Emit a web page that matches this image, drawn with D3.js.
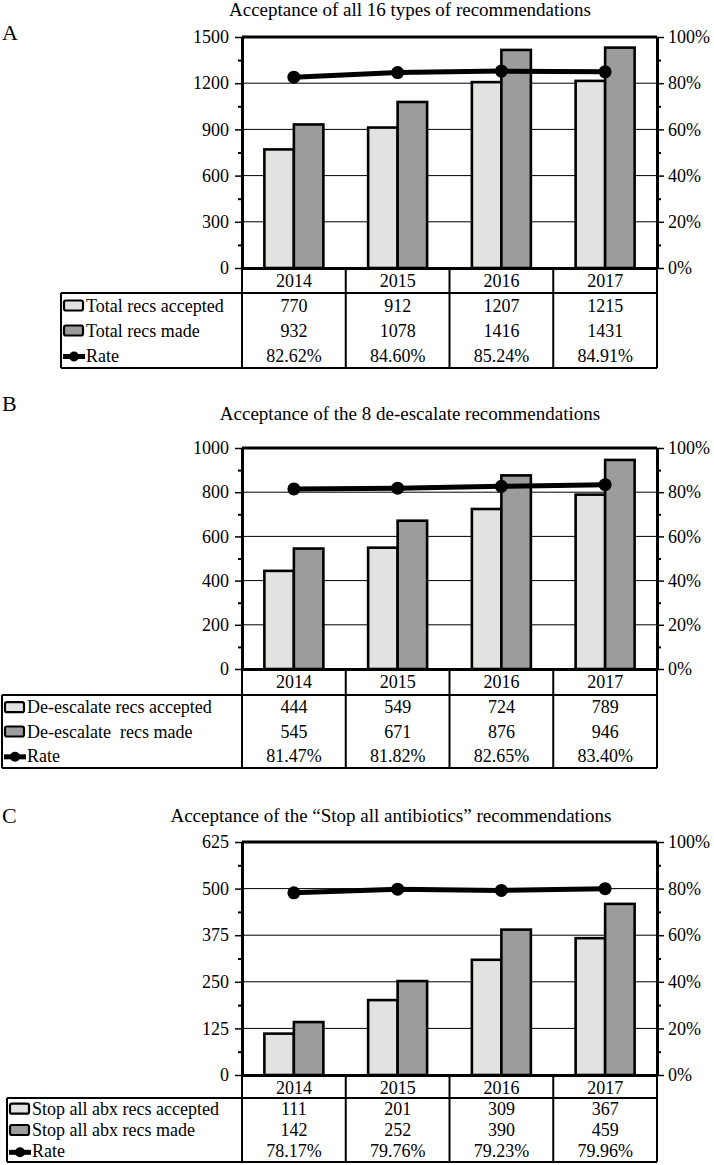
<!DOCTYPE html>
<html><head><meta charset="utf-8">
<script src="https://cdn.jsdelivr.net/npm/d3@7"></script>
<style>
body{margin:0;background:#fff}
svg{display:block}
</style>
</head><body>
<svg id="chart" width="714" height="1165" style="font-family:'Liberation Serif',serif"></svg>
<script>
// ---------- data ----------
const years = ["2014", "2015", "2016", "2017"];

const titleA = "Acceptance of all 16 types of recommendations";
const acceptedA = [770, 912, 1207, 1215];
const madeA = [932, 1078, 1416, 1431];
const rateA = [82.62, 84.60, 85.24, 84.91];
const ticksA = [0, 300, 600, 900, 1200, 1500];
const labelsA = ["Total recs accepted", "Total recs made", "Rate"];

const titleB = "Acceptance of the 8 de-escalate recommendations";
const acceptedB = [444, 549, 724, 789];
const madeB = [545, 671, 876, 946];
const rateB = [81.47, 81.82, 82.65, 83.40];
const ticksB = [0, 200, 400, 600, 800, 1000];
const labelsB = ["De-escalate recs accepted", "De-escalate  recs made", "Rate"];

const titleC = "Acceptance of the \u201cStop all antibiotics\u201d recommendations";
const acceptedC = [111, 201, 309, 367];
const madeC = [142, 252, 390, 459];
const rateC = [78.17, 79.76, 79.23, 79.96];
const ticksC = [0, 125, 250, 375, 500, 625];
const labelsC = ["Stop all abx recs accepted", "Stop all abx recs made", "Rate"];

const rateTicks = [0, 20, 40, 60, 80, 100];

// ---------- layout ----------
const panels = [
  {letter: "A", title: titleA, acc: acceptedA, made: madeA, rate: rateA, ticks: ticksA, labels: labelsA,
   top: 37, bottom: 268, headerBottom: 293, tableBottom: 368, tableLeft: 61, letterY: 40, titleY: 16, titleX: 410},
  {letter: "B", title: titleB, acc: acceptedB, made: madeB, rate: rateB, ticks: ticksB, labels: labelsB,
   top: 448, bottom: 669, headerBottom: 695, tableBottom: 768, tableLeft: 2, letterY: 411, titleY: 420, titleX: 410},
  {letter: "C", title: titleC, acc: acceptedC, made: madeC, rate: rateC, ticks: ticksC, labels: labelsC,
   top: 842, bottom: 1075, headerBottom: 1098, tableBottom: 1162, tableLeft: 7, letterY: 823, titleY: 822, titleX: 391}
];

const L = 242, R = 657;
const pairW = 59;
const lightFill = "#e2e2e0", darkFill = "#9c9c9c";
const FS = 18;
const FF = "'Liberation Serif', 'Times New Roman', serif";

const svg = d3.select("#chart");

function styleText(sel, size) {
  sel.style("font-family", FF).style("font-size", size + "px").style("fill", "#000");
}

panels.forEach(p => {
  const g = svg.append("g");
  const yMax = p.ticks[p.ticks.length - 1];
  const x = d3.scaleBand().domain(years).range([L, R]).padding(0);
  const xs = d3.scaleBand().domain(["acc", "made"]).range([0, pairW]).padding(0);
  const y = d3.scaleLinear().domain([0, yMax]).range([p.bottom, p.top]);
  const yr = d3.scaleLinear().domain([0, 100]).range([p.bottom, p.top]);
  const step = p.ticks[1] - p.ticks[0];
  const minor = p.ticks.slice(0, -1).map(t => t + step / 2);
  const rateMinor = rateTicks.slice(0, -1).map(t => t + 10);

  // letter & title
  g.append("text").attr("x", 2).attr("y", p.letterY).text(p.letter).call(styleText, 22);
  g.append("text").attr("x", p.titleX).attr("y", p.titleY).attr("text-anchor", "middle")
    .text(p.title).call(styleText, 19);

  // gridlines
  g.append("g").selectAll("line").data(p.ticks.filter(t => t > 0 && t < yMax)).join("line")
    .attr("x1", L).attr("x2", R).attr("y1", d => y(d)).attr("y2", d => y(d))
    .attr("stroke", "#000").attr("stroke-width", 1);

  // bars
  const bars = [];
  years.forEach((yy, i) => {
    bars.push({year: yy, key: "acc", v: p.acc[i]});
    bars.push({year: yy, key: "made", v: p.made[i]});
  });
  g.append("g").selectAll("rect").data(bars).join("rect")
    .attr("x", d => x(d.year) + (x.bandwidth() - pairW) / 2 + xs(d.key))
    .attr("width", xs.bandwidth())
    .attr("y", d => y(d.v))
    .attr("height", d => y(0) - y(d.v))
    .attr("fill", d => d.key === "acc" ? lightFill : darkFill)
    .attr("stroke", "#000").attr("stroke-width", 2.6);

  // top border
  g.append("line").attr("x1", L).attr("x2", R).attr("y1", p.top).attr("y2", p.top)
    .attr("stroke", "#000").attr("stroke-width", 3);

  // left axis
  const la = g.append("g").attr("transform", `translate(${L},0)`)
    .call(d3.axisLeft(y).tickValues(p.ticks).tickSize(7).tickSizeOuter(0).tickPadding(6).tickFormat(d => d));
  la.select(".domain").attr("stroke-width", 3);
  la.selectAll(".tick line").attr("stroke-width", 1.5);
  la.selectAll("text").call(styleText, FS);
  const lm = g.append("g").attr("transform", `translate(${L},0)`)
    .call(d3.axisLeft(y).tickValues(minor).tickSize(4).tickSizeOuter(0).tickFormat(""));
  lm.select(".domain").remove();
  lm.selectAll(".tick line").attr("stroke-width", 2);

  // right axis
  const ra = g.append("g").attr("transform", `translate(${R},0)`)
    .call(d3.axisRight(yr).tickValues(rateTicks).tickSize(7).tickSizeOuter(0).tickPadding(4).tickFormat(d => d + "%"));
  ra.select(".domain").attr("stroke-width", 3);
  ra.selectAll(".tick line").attr("stroke-width", 1.5);
  ra.selectAll("text").call(styleText, FS);
  const rm = g.append("g").attr("transform", `translate(${R},0)`)
    .call(d3.axisRight(yr).tickValues(rateMinor).tickSize(4).tickSizeOuter(0).tickFormat(""));
  rm.select(".domain").remove();
  rm.selectAll(".tick line").attr("stroke-width", 2);

  // rate line
  const line = d3.line().x((d, i) => x(years[i]) + x.bandwidth() / 2).y(d => yr(d));
  g.append("path").datum(p.rate).attr("d", line).attr("fill", "none")
    .attr("stroke", "#000").attr("stroke-width", 5).attr("stroke-linejoin", "round");
  g.append("g").selectAll("circle").data(p.rate).join("circle")
    .attr("cx", (d, i) => x(years[i]) + x.bandwidth() / 2).attr("cy", d => yr(d)).attr("r", 6.5);

  // bottom axis with year labels
  const ba = g.append("g").attr("transform", `translate(0,${p.bottom})`)
    .call(d3.axisBottom(x).tickSize(0).tickSizeOuter(0).tickPadding(6));
  ba.select(".domain").attr("stroke-width", 3);
  ba.selectAll("text").call(styleText, FS);

  // table grid
  const tg = g.append("g").attr("stroke", "#000").attr("stroke-width", 2);
  const bounds = years.map(yy => x(yy)).concat([R]);
  tg.selectAll("line.v").data(bounds).join("line").attr("class", "v")
    .attr("x1", d => d).attr("x2", d => d).attr("y1", p.bottom).attr("y2", p.tableBottom);
  tg.append("line").attr("x1", p.tableLeft).attr("x2", R).attr("y1", p.headerBottom).attr("y2", p.headerBottom);
  tg.append("line").attr("x1", p.tableLeft).attr("x2", R).attr("y1", p.tableBottom).attr("y2", p.tableBottom);
  tg.append("line").attr("x1", p.tableLeft).attr("x2", p.tableLeft).attr("y1", p.headerBottom).attr("y2", p.tableBottom);

  // table rows
  const rowH = (p.tableBottom - p.headerBottom) / 3;
  const rowC = i => p.headerBottom + rowH * (i + 0.5);
  const rows = [
    p.acc.map(String),
    p.made.map(String),
    p.rate.map(v => v.toFixed(2) + "%")
  ];
  rows.forEach((vals, ri) => {
    g.append("g").selectAll("text").data(vals).join("text")
      .attr("x", (d, i) => x(years[i]) + x.bandwidth() / 2)
      .attr("y", rowC(ri) + 6)
      .attr("text-anchor", "middle").text(d => d).call(styleText, FS);
    g.append("text").attr("x", p.tableLeft + 25).attr("y", rowC(ri) + 6)
      .attr("xml:space", "preserve").style("white-space", "pre")
      .text(p.labels[ri]).call(styleText, FS);
  });
  // legend swatches
  const sx = p.tableLeft + 3;
  [lightFill, darkFill].forEach((f, ri) => {
    g.append("rect").attr("x", sx).attr("y", rowC(ri) - 5).attr("width", 19).attr("height", 10)
      .attr("rx", 2).attr("fill", f).attr("stroke", "#000").attr("stroke-width", 2.2);
  });
  g.append("line").attr("x1", sx - 1).attr("x2", sx + 21).attr("y1", rowC(2) + 1).attr("y2", rowC(2) + 1)
    .attr("stroke", "#000").attr("stroke-width", 5);
  g.append("circle").attr("cx", sx + 10).attr("cy", rowC(2) + 1).attr("r", 5);
});
</script>
</body></html>
